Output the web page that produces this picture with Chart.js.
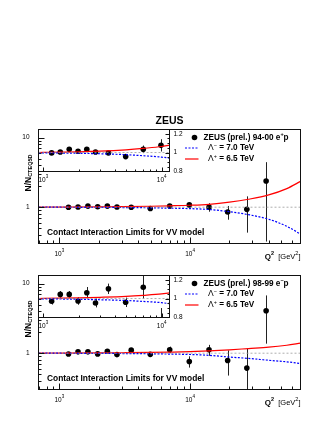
<!DOCTYPE html>
<html>
<head>
<meta charset="utf-8">
<script src="https://cdn.jsdelivr.net/npm/chart.js@4.4.0/dist/chart.umd.min.js"></script>
<style>
  html, body { margin: 0; padding: 0; background: #fff; }
  #wrap { position: relative; width: 332px; height: 429px; }
  #wrap canvas { position: absolute; left: 0; top: 0; }
</style>
</head>
<body>
<div id="wrap">
  <canvas id="EP_MAIN" width="332" height="429"></canvas>
  <canvas id="EP_INSET" width="332" height="429"></canvas>
  <canvas id="EM_MAIN" width="332" height="429"></canvas>
  <canvas id="EM_INSET" width="332" height="429"></canvas>
</div>
<script>
// measured points, Q2 in GeV2
const Q2 = [1175, 1390, 1655, 1965, 2330, 2760, 3550, 4965, 6990, 9870, 13970, 19400, 27200, 38200];

// ZEUS (prel.) 94-00 e+p
const RATIO_EP = [0.997, 1.007, 1.035, 1.015, 1.035, 1.007, 0.997, 0.958, 1.035, 1.077, 1.0, 0.85, 0.93, 2.38];
const ERR_EP   = [0.012, 0.012, 0.013, 0.014, 0.015, 0.017, 0.02, 0.024, 0.04, 0.065, 0.14, 0.19, 0.5, 2.06];

// ZEUS (prel.) 98-99 e-p
const RATIO_EM = [0.972, 1.045, 1.045, 0.975, 1.063, 0.954, 1.104, 0.961, 1.121, 0.76, 1.116, 0.786, 0.61, 4.07];
const ERR_EM   = [0.035, 0.035, 0.035, 0.04, 0.06, 0.047, 0.055, 0.05, 0.12, 0.14, 0.2, 0.31, 0.55, 2.7];

// model curves
const Q2_MODEL  = [693, 1000, 2000, 3000, 5000, 7000, 10000, 14000, 20000, 28000, 40000, 55000, 70000];
const LPLUS_EP  = [1.0, 1.002, 1.008, 1.015, 1.03, 1.045, 1.065, 1.10, 1.18, 1.30, 1.50, 1.85, 2.35];
const LMINUS_EP = [1.0, 0.998, 0.993, 0.988, 0.978, 0.967, 0.952, 0.925, 0.86, 0.78, 0.67, 0.53, 0.41];
const LPLUS_EM  = [1.0, 1.002, 1.008, 1.014, 1.024, 1.035, 1.05, 1.075, 1.115, 1.165, 1.22, 1.30, 1.39];
const LMINUS_EM = [1.0, 0.998, 0.993, 0.988, 0.98, 0.97, 0.957, 0.93, 0.88, 0.84, 0.79, 0.75, 0.71];

// tick labels
const MAIN_X_LABELS = [1000, 10000];
const MAIN_Y_LABELS = [1, 10];
const INSET_Y_LABELS = [0.8, 1, 1.2];

const FONT = '"Liberation Sans", Arial, sans-serif';

// draw a row of text pieces (sub/superscripts)
function runs(ctx, x, y, parts, align) {
  let total = 0;
  parts.forEach(p => { ctx.font = (p.b ? 'bold ' : '') + p.s + 'px ' + FONT; p.w = ctx.measureText(p.t).width; total += p.w; });
  let cx = align === 'right' ? x - total : align === 'center' ? x - total / 2 : x;
  ctx.textAlign = 'left';
  ctx.textBaseline = 'middle';
  parts.forEach(p => {
    ctx.font = (p.b ? 'bold ' : '') + p.s + 'px ' + FONT;
    ctx.fillText(p.t, cx, y + (p.dy || 0));
    cx += p.w;
  });
}

function pow10(v, size) {
  return [{t: '10', s: size}, {t: String(Math.round(Math.log10(v))), s: size * 0.7, dy: -size * 0.45}];
}

function logMinor(min, max) {
  const out = [];
  for (let e = Math.floor(Math.log10(min)); e <= Math.ceil(Math.log10(max)); e++) {
    for (let k = 1; k <= 9; k++) {
      const v = k * Math.pow(10, e);
      if (v >= min && v <= max) out.push({v: v, len: k === 1 ? 1 : 0});
    }
  }
  return out;
}

const rootAxes = {
  id: 'rootAxes',
  afterDraw(chart, args, o) {
    const {ctx, chartArea: a, scales: {x, y}} = chart;
    ctx.save();
    ctx.strokeStyle = '#111';
    ctx.fillStyle = '#000';
    ctx.lineWidth = 1;
    ctx.strokeRect(a.left, a.top, a.right - a.left, a.bottom - a.top);
    ctx.beginPath();
    o.xTicks.forEach(t => {
      const px = Math.round(x.getPixelForValue(t.v)) + 0.5;
      if (px < a.left || px > a.right) return;
      const len = t.len ? o.major : o.minor;
      ctx.moveTo(px, a.bottom); ctx.lineTo(px, a.bottom - len);
    });
    o.yTicks.forEach(t => {
      const py = Math.round(y.getPixelForValue(t.v)) + 0.5;
      if (py < a.top - 0.6 || py > a.bottom + 0.6) return;
      const len = t.len ? o.major : o.minor;
      if (o.ySide === 'left') { ctx.moveTo(a.left, py); ctx.lineTo(a.left + len, py); }
      else { ctx.moveTo(a.right, py); ctx.lineTo(a.right - len, py); }
    });
    ctx.stroke();

    o.xLabels.forEach(v => runs(ctx, x.getPixelForValue(v), a.bottom + o.xLabelGap, pow10(v, 6.5), 'center'));
    o.yLabels.forEach(v => {
      const py = y.getPixelForValue(v);
      if (o.ySide === 'left') runs(ctx, a.left - 9, py, [{t: String(v), s: 6.5}], 'right');
      else runs(ctx, a.right + 4, py, [{t: String(v), s: 6.5}], 'left');
    });
    if (o.extra) o.extra(chart, ctx, a);
    ctx.restore();
  }
};

const errorBars = {
  id: 'errorBars',
  beforeDatasetsDraw(chart) {
    const {ctx, chartArea: a, scales: {x, y}} = chart;
    ctx.save();
    ctx.beginPath();
    ctx.rect(a.left, a.top, a.right - a.left, a.bottom - a.top);
    ctx.clip();
    ctx.strokeStyle = '#222';
    ctx.lineWidth = 1;
    chart.data.datasets.forEach(ds => {
      if (!ds.errors) return;
      ctx.beginPath();
      ds.data.forEach((p, i) => {
        const px = Math.round(x.getPixelForValue(p.x)) + 0.5;
        let lo = p.y - ds.errors[i];
        if (y.type === 'logarithmic') lo = Math.max(lo, y.min);
        ctx.moveTo(px, y.getPixelForValue(lo));
        ctx.lineTo(px, y.getPixelForValue(p.y + ds.errors[i]));
      });
      ctx.stroke();
    });
    ctx.restore();
  }
};

function mainDecor(legendName, charge) {
  return function(chart, ctx, a) {
    // Y title
    ctx.save();
    ctx.translate(a.left - 7, a.top + 62);
    ctx.rotate(-Math.PI / 2);
    runs(ctx, 0, -3, [{t: 'N/N', s: 8.5, b: true}, {t: 'CTEQ5D', s: 5.5, b: true, dy: 2}], 'left');
    ctx.restore();
    // X title
    runs(ctx, a.right, a.bottom + 13, [
      {t: 'Q', s: 8, b: true}, {t: '2', s: 5.5, b: true, dy: -3.5},
      {t: '  [GeV', s: 7.5}, {t: '2', s: 5.5, dy: -3.5}, {t: ']', s: 7.5}
    ], 'right');
    // model text
    runs(ctx, a.left + 8.5, a.bottom - 10.5, [{t: 'Contact Interaction Limits for VV model', s: 8.4, b: true}], 'left');
    // legend
    ctx.beginPath();
    ctx.arc(a.left + 156, a.top + 8, 2.8, 0, Math.PI * 2);
    ctx.fill();
    runs(ctx, a.left + 165, a.top + 8, [
      {t: legendName + ' e', s: 8.2, b: true}, {t: charge, s: 5.5, b: true, dy: -3}, {t: 'p', s: 8.2, b: true}
    ], 'left');
    ctx.lineWidth = 1.2;
    ctx.strokeStyle = '#0000ff';
    ctx.setLineDash([2, 1.5]);
    ctx.beginPath(); ctx.moveTo(a.left + 146.5, a.top + 18.5); ctx.lineTo(a.left + 160, a.top + 18.5); ctx.stroke();
    ctx.setLineDash([]);
    ctx.strokeStyle = '#ff0000';
    ctx.beginPath(); ctx.moveTo(a.left + 146.5, a.top + 29.5); ctx.lineTo(a.left + 160, a.top + 29.5); ctx.stroke();
    runs(ctx, a.left + 169.5, a.top + 18.5, [
      {t: '\u039B', s: 8.5}, {t: '\u2212', s: 5.5, dy: -3}, {t: ' = 7.0 TeV', s: 8.2, b: true}
    ], 'left');
    runs(ctx, a.left + 169.5, a.top + 29.5, [
      {t: '\u039B', s: 8.5}, {t: '+', s: 5.5, dy: -3}, {t: ' = 6.5 TeV', s: 8.2, b: true}
    ], 'left');
  };
}

function datasets(ratio, err, lamPlus, lamMinus, xmin, xmax, ref) {
  return [
    {
      type: 'line', data: [{x: xmin, y: ref}, {x: xmax, y: ref}],
      borderColor: '#999', borderWidth: 0.8, borderDash: [2, 2], pointRadius: 0, clip: 0
    },
    {
      type: 'line', data: Q2_MODEL.map((q, i) => ({x: q, y: lamMinus[i]})),
      borderColor: '#0000ff', borderWidth: 1.2, borderDash: [2, 1.5], pointRadius: 0,
      cubicInterpolationMode: 'monotone', clip: 0
    },
    {
      type: 'line', data: Q2_MODEL.map((q, i) => ({x: q, y: lamPlus[i]})),
      borderColor: '#ff0000', borderWidth: 1.2, pointRadius: 0,
      cubicInterpolationMode: 'monotone', clip: 0
    },
    {
      type: 'scatter', data: Q2.map((q, i) => ({x: q, y: ratio[i]})), errors: err,
      backgroundColor: '#000', borderColor: '#000', pointRadius: 2.8, borderWidth: 0, clip: 0
    }
  ];
}

function makeMain(id, ratio, err, lamPlus, lamMinus, top, name, charge, title) {
  const xmin = 693, xmax = 70000, ymin = 0.31, ymax = 13.1;
  return new Chart(document.getElementById(id), {
    type: 'scatter',
    data: {datasets: datasets(ratio, err, lamPlus, lamMinus, xmin, xmax, 1)},
    options: {
      responsive: false, animation: false, events: [],
      layout: {padding: {left: 38.5, right: 31.5, top: top, bottom: 429 - (top + 114)}},
      scales: {
        x: {type: 'logarithmic', min: xmin, max: xmax, display: false},
        y: {type: 'logarithmic', min: ymin, max: ymax, display: false}
      },
      plugins: {
        legend: {display: false}, tooltip: {enabled: false},
        rootAxes: {
          xTicks: logMinor(xmin, xmax), yTicks: logMinor(ymin, ymax),
          major: 6, minor: 3, ySide: 'left',
          xLabels: MAIN_X_LABELS, yLabels: MAIN_Y_LABELS, xLabelGap: 10.5,
          extra: function(chart, ctx, a) {
            if (title) runs(ctx, (a.left + a.right) / 2, a.top - 8, [{t: 'ZEUS', s: 10.5, b: true}], 'center');
            mainDecor(name, charge)(chart, ctx, a);
          }
        }
      }
    },
    plugins: [errorBars, rootAxes]
  });
}

function makeInset(id, ratio, err, lamPlus, lamMinus, top) {
  const xmin = 910, xmax = 11650, ymin = 0.8, ymax = 1.245;
  const yt = [];
  for (let k = 0; k <= 9; k++) {
    const v = +(0.8 + k * 0.05).toFixed(2);
    yt.push({v: v, len: (k % 4 === 0) ? 1 : 0});
  }
  return new Chart(document.getElementById(id), {
    type: 'scatter',
    data: {datasets: datasets(ratio, err, lamPlus, lamMinus, xmin, xmax, 1)},
    options: {
      responsive: false, animation: false, events: [],
      layout: {padding: {left: 38.5, right: 332 - 169.5, top: top, bottom: 429 - (top + 42)}},
      scales: {
        x: {type: 'logarithmic', min: xmin, max: xmax, display: false},
        y: {type: 'linear', min: ymin, max: ymax, display: false}
      },
      plugins: {
        legend: {display: false}, tooltip: {enabled: false},
        rootAxes: {
          xTicks: logMinor(xmin, xmax), yTicks: yt,
          major: 4, minor: 2, ySide: 'right',
          xLabels: MAIN_X_LABELS, yLabels: INSET_Y_LABELS, xLabelGap: 8.5
        }
      }
    },
    plugins: [errorBars, rootAxes]
  });
}

makeMain('EP_MAIN', RATIO_EP, ERR_EP, LPLUS_EP, LMINUS_EP, 129.5, 'ZEUS (prel.) 94-00', '+', true);
makeInset('EP_INSET', RATIO_EP, ERR_EP, LPLUS_EP, LMINUS_EP, 129.5);
makeMain('EM_MAIN', RATIO_EM, ERR_EM, LPLUS_EM, LMINUS_EM, 275.5, 'ZEUS (prel.) 98-99', '\u2212', false);
makeInset('EM_INSET', RATIO_EM, ERR_EM, LPLUS_EM, LMINUS_EM, 275.5);
</script>
</body>
</html>
